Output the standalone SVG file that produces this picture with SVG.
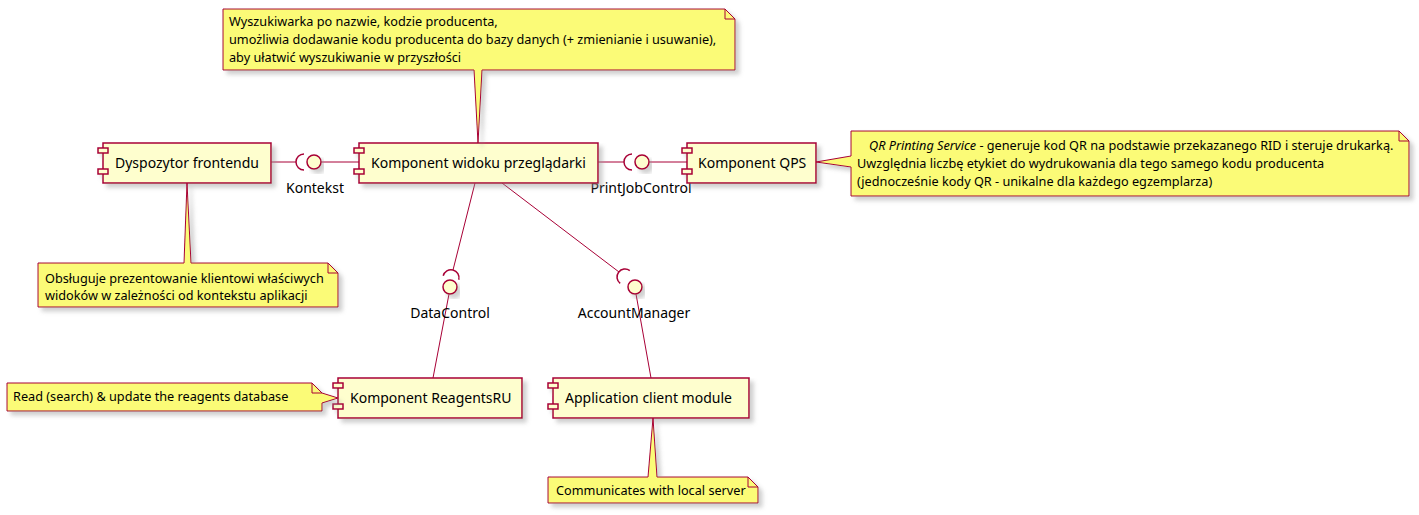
<svg xmlns="http://www.w3.org/2000/svg" width="1419" height="515" viewBox="0 0 1419 515">
<defs>
<filter id="sh" x="-10%" y="-10%" width="130%" height="140%">
<feGaussianBlur in="SourceAlpha" stdDeviation="2" result="b"/>
<feOffset in="b" dx="4" dy="4" result="o"/>
<feColorMatrix in="o" type="matrix" values="0 0 0 0 0.3  0 0 0 0 0.3  0 0 0 0 0.3  0 0 0 0.45 0" result="c"/>
<feMerge><feMergeNode in="c"/><feMergeNode in="SourceGraphic"/></feMerge>
</filter>
<style>
.comp{fill:#FEFECE;stroke:#A80036;stroke-width:1.5}
.note{fill:#FBFB77;stroke:#A80036;stroke-width:1}
.fold{fill:none;stroke:#A80036;stroke-width:1}
.iface{fill:#FEFECE;stroke:#A80036;stroke-width:1.5}
.ln{fill:none;stroke:#A80036;stroke-width:1}
.sock{fill:none;stroke:#A80036;stroke-width:1.5}
.t14{font-family:"Noto Sans","DejaVu Sans",sans-serif;font-size:14px;fill:#000}
.t13{font-family:"Noto Sans","DejaVu Sans",sans-serif;font-size:12.7px;fill:#000}
</style>
</defs>
<rect width="1419" height="515" fill="#FFFFFF"/>

<g id="connectors">
<line class="ln" x1="271" y1="162" x2="296" y2="162"/>
<line class="ln" x1="321" y1="162" x2="359" y2="162"/>
<line class="ln" x1="598" y1="162" x2="624" y2="162"/>
<line class="ln" x1="649" y1="162" x2="687" y2="162"/>
<line class="ln" x1="475" y1="183" x2="453" y2="270"/>
<line class="ln" x1="449" y1="294" x2="433" y2="378"/>
<line class="ln" x1="502" y1="183" x2="619" y2="272"/>
<line class="ln" x1="636" y1="294" x2="651" y2="378"/>
<path class="sock" d="M304,154 A8,8 0 0 0 304,170"/>
<path class="sock" d="M632,154 A8,8 0 0 0 632,170"/>
<path class="sock" d="M443.2,275.8 A8,8 0 0 1 458.8,279.7"/>
<path class="sock" d="M629.8,270.6 A8,8 0 0 0 620.2,283.4"/>
</g>

<g id="iface-kontekst">
<circle class="iface" cx="314" cy="162" r="7" filter="url(#sh)"/>
<text class="t14" x="315" y="193" text-anchor="middle">Kontekst</text>
</g>
<g id="iface-printjobcontrol">
<circle class="iface" cx="642" cy="162" r="7" filter="url(#sh)"/>
<text class="t14" x="641" y="193" text-anchor="middle">PrintJobControl</text>
</g>
<g id="iface-datacontrol">
<circle class="iface" cx="450" cy="287" r="7" filter="url(#sh)"/>
<text class="t14" x="450" y="318" text-anchor="middle">DataControl</text>
</g>
<g id="iface-accountmanager">
<circle class="iface" cx="635" cy="287" r="7" filter="url(#sh)"/>
<text class="t14" x="634" y="318" text-anchor="middle">AccountManager</text>
</g>

<g id="comp-dyspozytor">
<g filter="url(#sh)">
<rect class="comp" x="103" y="143" width="168" height="40"/>
<rect class="comp" x="98" y="148" width="10" height="5"/>
<rect class="comp" x="98" y="169" width="10" height="5"/>
</g>
<text class="t14" x="115" y="168">Dyspozytor frontendu</text>
</g>

<g id="comp-widoku">
<g filter="url(#sh)">
<rect class="comp" x="359" y="143" width="239" height="40"/>
<rect class="comp" x="354" y="148" width="10" height="5"/>
<rect class="comp" x="354" y="169" width="10" height="5"/>
</g>
<text class="t14" x="371" y="168">Komponent widoku przeglądarki</text>
</g>

<g id="comp-qps">
<g filter="url(#sh)">
<rect class="comp" x="687" y="143" width="129" height="40"/>
<rect class="comp" x="682" y="148" width="10" height="5"/>
<rect class="comp" x="682" y="169" width="10" height="5"/>
</g>
<text class="t14" x="698" y="168">Komponent QPS</text>
</g>

<g id="comp-reagents">
<g filter="url(#sh)">
<rect class="comp" x="338" y="378" width="184" height="40"/>
<rect class="comp" x="333" y="383" width="10" height="5"/>
<rect class="comp" x="333" y="404" width="10" height="5"/>
</g>
<text class="t14" x="350" y="403">Komponent ReagentsRU</text>
</g>

<g id="comp-appclient">
<g filter="url(#sh)">
<rect class="comp" x="553" y="378" width="196" height="40"/>
<rect class="comp" x="548" y="383" width="10" height="5"/>
<rect class="comp" x="548" y="404" width="10" height="5"/>
</g>
<text class="t14" x="565" y="403">Application client module</text>
</g>

<g id="note-widoku">
<path class="note" filter="url(#sh)" d="M223,9 H725 L735,19 V70 H482 L478,143 L474,70 H223 Z"/>
<path class="fold" d="M725,9 V19 H735"/>
<text class="t13" x="229" y="26">Wyszukiwarka po nazwie, kodzie producenta,</text>
<text class="t13" x="229" y="44">umożliwia dodawanie kodu producenta do bazy danych (+ zmienianie i usuwanie),</text>
<text class="t13" x="229" y="62">aby ułatwić wyszukiwanie w przyszłości</text>
</g>

<g id="note-dyspozytor">
<path class="note" filter="url(#sh)" d="M38,263 H184 L187,183 L191,263 H328 L338,273 V307 H38 Z"/>
<path class="fold" d="M328,263 V273 H338"/>
<text class="t13" x="45" y="283">Obsługuje prezentowanie klientowi właściwych</text>
<text class="t13" x="45" y="300">widoków w zależności od kontekstu aplikacji</text>
</g>

<g id="note-qps">
<path class="note" filter="url(#sh)" d="M851,131 H1399 L1409,141 V196 H851 V167 L816,162 L851,156 Z"/>
<path class="fold" d="M1399,131 V141 H1409"/>
<text class="t13" x="869" y="150"><tspan font-style="italic">QR Printing Service</tspan> - generuje kod QR na podstawie przekazanego RID i steruje drukarką.</text>
<text class="t13" x="857" y="168">Uwzględnia liczbę etykiet do wydrukowania dla tego samego kodu producenta</text>
<text class="t13" x="857" y="186">(jednocześnie kody QR - unikalne dla każdego egzemplarza)</text>
</g>

<g id="note-reagents">
<path class="note" filter="url(#sh)" d="M7,383 H312 L322,393 L338,398 L322,403 V411 H7 Z"/>
<path class="fold" d="M312,383 V393 H322"/>
<text class="t13" x="13" y="401">Read (search) &amp; update the reagents database</text>
</g>

<g id="note-appclient">
<path class="note" filter="url(#sh)" d="M548,477 H648 L653,418 L657,477 H748 L758,487 V503 H548 Z"/>
<path class="fold" d="M748,477 V487 H758"/>
<text class="t13" x="556" y="495">Communicates with local server</text>
</g>
</svg>
